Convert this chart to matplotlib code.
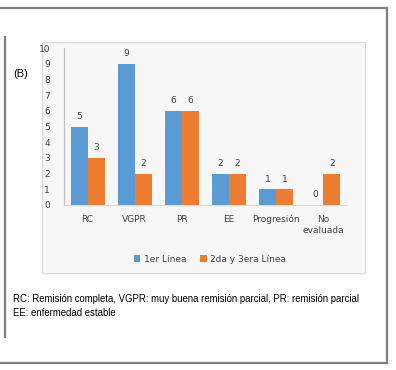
import numpy as np
import matplotlib
matplotlib.use("Agg")
import matplotlib.pyplot as plt
from matplotlib.patches import Rectangle
from matplotlib.lines import Line2D

# data
categories = ["RC", "VGPR", "PR", "EE", "Progresión", "No\nevaluada"]
primera = [5, 9, 6, 2, 1, 0]
segunda = [3, 2, 6, 2, 1, 2]
series_names = ["1er Línea", "2da y 3era Línea"]
caption = ("RC: Remisión completa, VGPR: muy buena remisión parcial, PR: remisión parcial\n"
           "EE: enfermedad estable")

W, H = 396, 370
fig = plt.figure(figsize=(W / 100, H / 100), dpi=100)
fig.patch.set_facecolor("white")

def px(x, y):
    return x / W, 1 - y / H

# outer frame lines (gray)
frame = "#7f7f7f"
for (x0, y0), (x1, y1) in [((0, 8), (387, 8)), ((387, 8), (387, 363)),
                           ((0, 363), (387, 363)), ((5, 37), (5, 337))]:
    a, b = px(x0, y0)
    c, d = px(x1, y1)
    fig.add_artist(Line2D([a, c], [b, d], color=frame, lw=1.6))

# chart box behind the axes
bx, by = px(42, 273)
fig.add_artist(Rectangle((bx, by), (365 - 42) / W, (273 - 42) / H,
                         facecolor="#f7f7f7", edgecolor="#d9d9d9", lw=0.8,
                         zorder=-5))

fig.text(*px(13, 74), "(B)", fontsize=8, va="center", ha="left",
         family="Liberation Sans")

l, b = px(64, 205)
ax = fig.add_axes([l, b, (347 - 64) / W, (205 - 48) / H])
ax.set_facecolor("none")
ax.set_zorder(2)

x = np.arange(len(categories))
w = 0.36
b1 = ax.bar(x - w / 2, primera, w, color="#5B9BD5", label=series_names[0])
b2 = ax.bar(x + w / 2, segunda, w, color="#ED7D31", label=series_names[1])
for bars in (b1, b2):
    ax.bar_label(bars, padding=4, fontsize=6.5, color="#404040")

ax.set_xlim(-0.5, len(categories) - 0.5)
ax.set_ylim(0, 10)
ax.set_yticks(range(0, 11))
ax.set_xticks(x)
ax.set_xticklabels(categories, fontsize=6.5, color="#404040", linespacing=1.3)
ax.tick_params(axis="both", length=0, labelsize=6.5, labelcolor="#404040")
ax.tick_params(axis="y", pad=10)
ax.tick_params(axis="x", pad=7)
for s in ["top", "right"]:
    ax.spines[s].set_visible(False)
ax.spines["left"].set_color("#bfbfbf")
ax.spines["bottom"].set_color("#d9d9d9")
ax.spines["left"].set_linewidth(0.8)
ax.spines["bottom"].set_linewidth(0.8)

leg = fig.legend(handles=[b1, b2], loc="center", bbox_to_anchor=px(210, 259), ncol=2,
                 frameon=False, fontsize=6.5, handlelength=0.7, handleheight=0.7,
                 handletextpad=0.4, columnspacing=1.6, labelcolor="#404040")
leg.set_zorder(3)

fig.text(*px(13, 306), caption, fontsize=6.9, va="center", ha="left",
         family="Liberation Sans", linespacing=1.5)

fig.savefig("out.png", dpi=100)
